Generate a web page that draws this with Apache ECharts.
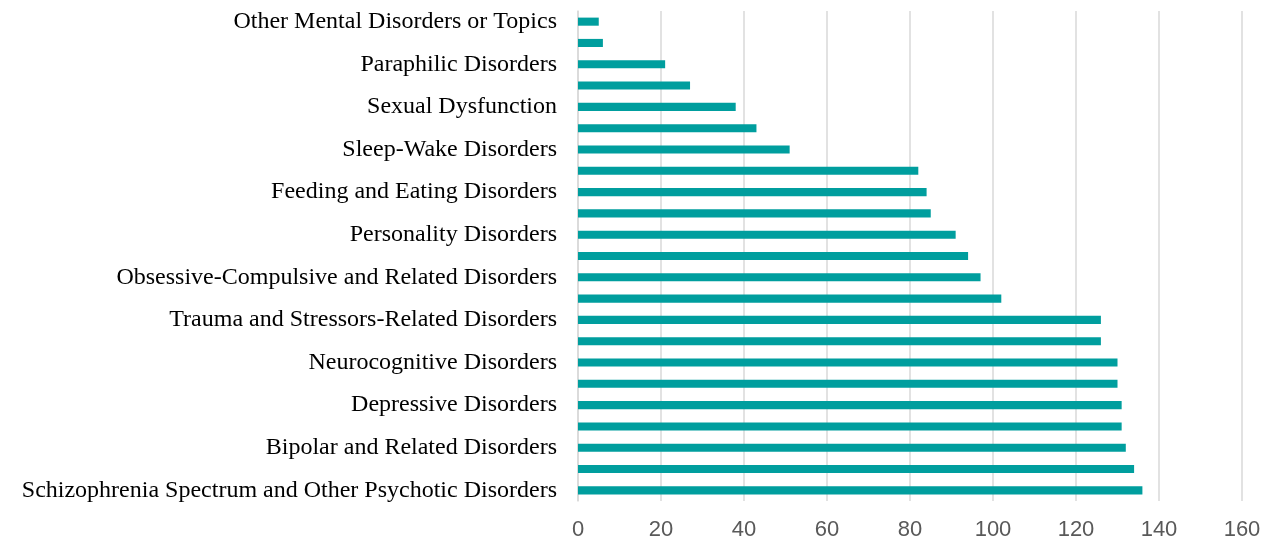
<!DOCTYPE html>
<html>
<head>
<meta charset="utf-8">
<script src="https://cdn.jsdelivr.net/npm/echarts@6/dist/echarts.min.js"></script>
<style>
html,body{margin:0;padding:0;background:#fff;}
#chart{width:1271px;height:543px;}
</style>
</head>
<body>
<div id="chart"></div>
<script>
// Categories listed from bottom to top
const categories = [
  "Schizophrenia Spectrum and Other Psychotic Disorders",
  "Anxiety Disorders",
  "Bipolar and Related Disorders",
  "Neurodevelopmental Disorders",
  "Depressive Disorders",
  "Substance-Related and Addictive Disorders",
  "Neurocognitive Disorders",
  "Dissociative Disorders",
  "Trauma and Stressors-Related Disorders",
  "Somatic Symptom and Related Disorders",
  "Obsessive-Compulsive and Related Disorders",
  "Disruptive, Impulse-Control, and Conduct Disorders",
  "Personality Disorders",
  "Elimination Disorders",
  "Feeding and Eating Disorders",
  "Gender Dysphoria",
  "Sleep-Wake Disorders",
  "Medication-Induced Movement Disorders",
  "Sexual Dysfunction",
  "Other Conditions That May Be a Focus of Clinical Attention",
  "Paraphilic Disorders",
  "Assessment Measures",
  "Other Mental Disorders or Topics"
];
const values = [136, 134, 132, 131, 131, 130, 130, 126, 126, 102, 97, 94, 91, 85, 84, 82, 51, 43, 38, 27, 21, 6, 5];
const xTicks = { min: 0, max: 160, interval: 20 };

const chart = echarts.init(document.getElementById('chart'));
chart.setOption({
  animation: false,
  grid: { left: 578, right: 29, top: 11, bottom: 42, containLabel: false },
  xAxis: {
    type: 'value',
    min: xTicks.min, max: xTicks.max, interval: xTicks.interval,
    axisLine: { show: false },
    axisTick: { show: false },
    splitLine: { show: true, lineStyle: { color: '#d9d9d9', width: 1.5 } },
    axisLabel: { color: '#595959', fontFamily: 'Liberation Sans', fontSize: 22, margin: 18 }
  },
  yAxis: {
    type: 'category',
    data: categories,
    axisLine: { show: true, lineStyle: { color: '#d9d9d9', width: 1.5 } },
    axisTick: { show: false },
    axisLabel: { interval: 1, color: '#000', fontFamily: 'Liberation Serif', fontSize: 24, margin: 21 }
  },
  series: [{
    type: 'bar',
    data: values,
    barWidth: '38%',
    itemStyle: { color: '#009e9e' }
  }]
});
</script>
</body>
</html>
